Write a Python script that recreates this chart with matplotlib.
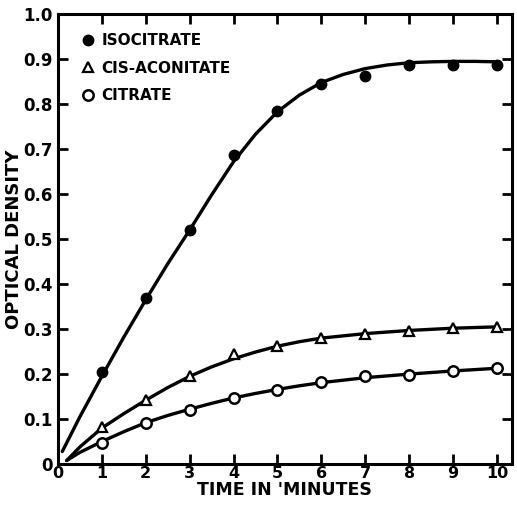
import matplotlib
matplotlib.use("Agg")
import matplotlib.pyplot as plt
from matplotlib.lines import Line2D

# measured points
minutes = [1, 2, 3, 4, 5, 6, 7, 8, 9, 10]
isocitrate = [0.205, 0.37, 0.52, 0.688, 0.785, 0.845, 0.862, 0.888, 0.888, 0.886]
cis_aconitate = [0.083, 0.142, 0.196, 0.245, 0.263, 0.28, 0.29, 0.295, 0.302, 0.305]
citrate = [0.047, 0.092, 0.12, 0.147, 0.165, 0.183, 0.195, 0.199, 0.208, 0.214]

# hand drawn fitted curves
iso_curve_x = [0.1, 0.5, 1, 1.5, 2, 2.5, 3, 3.5, 4, 4.5, 5, 5.5, 6, 6.5, 7, 7.5, 8, 8.5, 9, 9.5, 10]
iso_curve_y = [0.028, 0.105, 0.195, 0.282, 0.365, 0.445, 0.52, 0.598, 0.672, 0.733, 0.783, 0.82, 0.848, 0.866, 0.879, 0.887, 0.892, 0.894, 0.895, 0.895, 0.894]
low_curve_x = [0.2, 0.5, 1, 1.5, 2, 2.5, 3, 3.5, 4, 4.5, 5, 5.5, 6, 7, 8, 9, 10]
cis_curve_y = [0.008, 0.038, 0.08, 0.112, 0.142, 0.17, 0.195, 0.216, 0.234, 0.249, 0.262, 0.272, 0.28, 0.29, 0.297, 0.302, 0.305]
cit_curve_y = [0.008, 0.026, 0.05, 0.072, 0.092, 0.108, 0.122, 0.135, 0.147, 0.157, 0.166, 0.174, 0.181, 0.192, 0.2, 0.207, 0.213]

x_ticks = [0, 1, 2, 3, 4, 5, 6, 7, 8, 9, 10]
y_ticks = [0, 0.1, 0.2, 0.3, 0.4, 0.5, 0.6, 0.7, 0.8, 0.9, 1.0]
y_labels = ["0", "0.1", "0.2", "0.3", "0.4", "0.5", "0.6", "0.7", "0.8", "0.9", "1.0"]

plt.rcParams['font.family'] = ['DejaVu Sans']
plt.rcParams['font.weight'] = 'bold'

fig = plt.figure(figsize=(5.17, 5.05), dpi=100)
ax = fig.add_axes([0.112, 0.081, 0.878, 0.891])

ax.plot(iso_curve_x, iso_curve_y, color='black', lw=2.4, solid_capstyle='round')
ax.plot(low_curve_x, cis_curve_y, color='black', lw=2.4, solid_capstyle='round')
ax.plot(low_curve_x, cit_curve_y, color='black', lw=2.4, solid_capstyle='round')

ax.plot(minutes, isocitrate, 'o', color='black', ms=7.5, zorder=3)
ax.plot(minutes, cis_aconitate, '^', mfc='white', mec='black', mew=1.6, ms=7, zorder=3)
ax.plot(minutes, citrate, 'o', mfc='white', mec='black', mew=1.8, ms=7.5, zorder=3)

ax.set_xlim(0, 10.34)
ax.set_ylim(0, 1.0)
ax.set_xticks(x_ticks)
ax.set_xticklabels([str(t) for t in x_ticks], fontsize=11.5, fontweight='bold')
ax.set_yticks(y_ticks)
ax.set_yticklabels(y_labels, fontsize=12, fontweight='bold')
ax.tick_params(direction='in', length=7, width=2, top=True, right=True)
ax.tick_params(axis='x', pad=1.5)
ax.tick_params(axis='y', pad=4)

for s in ax.spines.values():
    s.set_linewidth(2.2)

ax.set_xlabel("TIME IN 'MINUTES", fontsize=12.5, fontweight='bold', labelpad=0)
ax.set_ylabel("OPTICAL DENSITY", fontsize=13, fontweight='bold', labelpad=0)

handles = [
    Line2D([], [], ls='none', marker='o', color='black', ms=7.5),
    Line2D([], [], ls='none', marker='^', mfc='white', mec='black', mew=1.6, ms=7),
    Line2D([], [], ls='none', marker='o', mfc='white', mec='black', mew=1.8, ms=7.5),
]
ax.legend(handles, ["ISOCITRATE", "CIS-ACONITATE", "CITRATE"], loc='upper left',
          bbox_to_anchor=(0.022, 0.991),
          frameon=False, handlelength=0.6, handletextpad=0.6, labelspacing=0.8,
          prop={'size': 11, 'weight': 'bold'}, borderaxespad=0.6)

fig.savefig("out.png", dpi=100)
